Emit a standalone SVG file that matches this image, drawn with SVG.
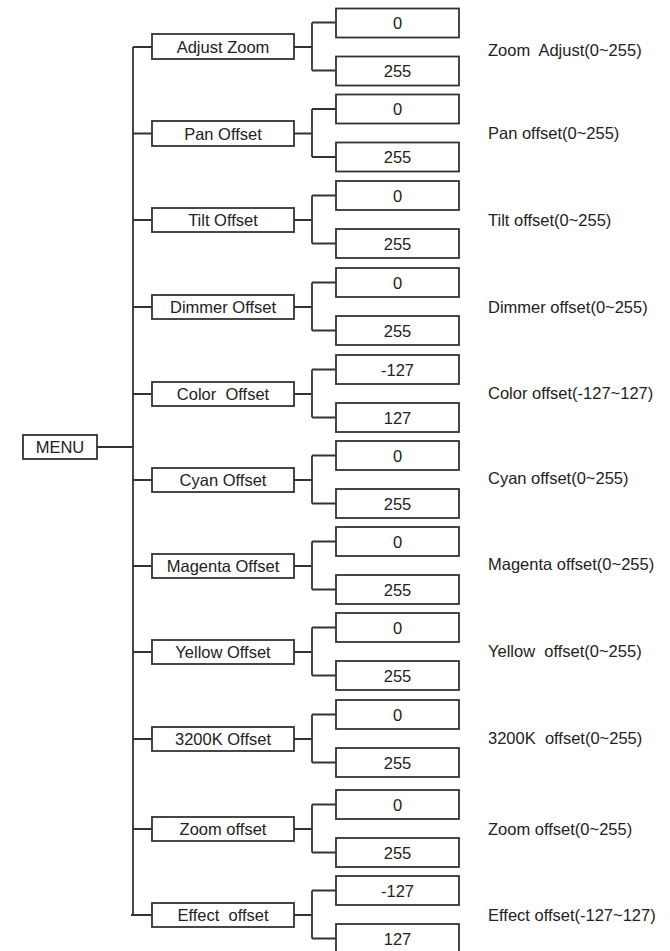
<svg xmlns="http://www.w3.org/2000/svg" width="670" height="951" viewBox="0 0 670 951" xml:space="preserve">
<style>
.b{fill:#fff;stroke:#333;stroke-width:1.8}
.c{fill:none;stroke:#333;stroke-width:1.8}
text{font-family:"Liberation Sans",Arial,sans-serif;font-size:16.5px;fill:#222;white-space:pre}
.m{text-anchor:middle}
</style>
<rect width="670" height="951" fill="#fff"/>
<g id="connectors" class="c">
<path d="M97 447H133M133 47V915"/>
<path d="M133 47H152M294 47H312M312 22.5V70.5M312 22.5H336M312 70.5H336"/>
<path d="M133 133.5H152M294 133.5H312M312 109V157M312 109H336M312 157H336"/>
<path d="M133 220H152M294 220H312M312 195.5V243.5M312 195.5H336M312 243.5H336"/>
<path d="M133 307H152M294 307H312M312 282.5V330.5M312 282.5H336M312 330.5H336"/>
<path d="M133 394H152M294 394H312M312 369.5V417.5M312 369.5H336M312 417.5H336"/>
<path d="M133 480H152M294 480H312M312 455.5V503.5M312 455.5H336M312 503.5H336"/>
<path d="M133 566H152M294 566H312M312 541.5V589.5M312 541.5H336M312 589.5H336"/>
<path d="M133 652H152M294 652H312M312 627.5V675.5M312 627.5H336M312 675.5H336"/>
<path d="M133 739H152M294 739H312M312 714.5V762.5M312 714.5H336M312 762.5H336"/>
<path d="M133 829H152M294 829H312M312 804.5V852.5M312 804.5H336M312 852.5H336"/>
<path d="M131 915H152M294 915H312M312 890.5V938.5M312 890.5H336M312 938.5H336"/>
</g>
<g id="menu"><rect class="b" x="23" y="435" width="74" height="24"/><text class="m" x="60" y="453">MENU</text></g>
<g id="g0">
<rect class="b" x="152" y="34" width="142" height="25"/><text class="m" x="223" y="52.5">Adjust Zoom</text>
<rect class="b" x="336" y="8.5" width="123" height="29"/><text class="m" x="397.5" y="29">0</text>
<rect class="b" x="336" y="56.5" width="123" height="29"/><text class="m" x="397.5" y="77">255</text>
<text x="488" y="56">Zoom  Adjust(0~255)</text>
</g>
<g id="g1">
<rect class="b" x="152" y="121" width="142" height="25"/><text class="m" x="223" y="139.5">Pan Offset</text>
<rect class="b" x="336" y="94.5" width="123" height="29"/><text class="m" x="397.5" y="115">0</text>
<rect class="b" x="336" y="142.5" width="123" height="29"/><text class="m" x="397.5" y="163">255</text>
<text x="488" y="139">Pan offset(0~255)</text>
</g>
<g id="g2">
<rect class="b" x="152" y="208" width="142" height="24"/><text class="m" x="223" y="226">Tilt Offset</text>
<rect class="b" x="336" y="181" width="123" height="29"/><text class="m" x="397.5" y="201.5">0</text>
<rect class="b" x="336" y="229" width="123" height="29"/><text class="m" x="397.5" y="249.5">255</text>
<text x="488" y="225.5">Tilt offset(0~255)</text>
</g>
<g id="g3">
<rect class="b" x="152" y="295" width="142" height="24"/><text class="m" x="223" y="313">Dimmer Offset</text>
<rect class="b" x="336" y="268" width="123" height="29"/><text class="m" x="397.5" y="288.5">0</text>
<rect class="b" x="336" y="316" width="123" height="29"/><text class="m" x="397.5" y="336.5">255</text>
<text x="488" y="312.5">Dimmer offset(0~255)</text>
</g>
<g id="g4">
<rect class="b" x="152" y="382" width="142" height="24"/><text class="m" x="223" y="400">Color  Offset</text>
<rect class="b" x="336" y="355" width="123" height="29"/><text class="m" x="397.5" y="375.5">-127</text>
<rect class="b" x="336" y="403" width="123" height="29"/><text class="m" x="397.5" y="423.5">127</text>
<text x="488" y="398.5">Color offset(-127~127)</text>
</g>
<g id="g5">
<rect class="b" x="152" y="468" width="142" height="24"/><text class="m" x="223" y="486">Cyan Offset</text>
<rect class="b" x="336" y="441" width="123" height="29"/><text class="m" x="397.5" y="461.5">0</text>
<rect class="b" x="336" y="489" width="123" height="29"/><text class="m" x="397.5" y="509.5">255</text>
<text x="488" y="484">Cyan offset(0~255)</text>
</g>
<g id="g6">
<rect class="b" x="152" y="554" width="142" height="24"/><text class="m" x="223" y="572">Magenta Offset</text>
<rect class="b" x="336" y="527" width="123" height="29"/><text class="m" x="397.5" y="547.5">0</text>
<rect class="b" x="336" y="575" width="123" height="29"/><text class="m" x="397.5" y="595.5">255</text>
<text x="488" y="569.5">Magenta offset(0~255)</text>
</g>
<g id="g7">
<rect class="b" x="152" y="640" width="142" height="24"/><text class="m" x="223" y="658">Yellow Offset</text>
<rect class="b" x="336" y="613" width="123" height="29"/><text class="m" x="397.5" y="633.5">0</text>
<rect class="b" x="336" y="661" width="123" height="29"/><text class="m" x="397.5" y="681.5">255</text>
<text x="488" y="656.5">Yellow  offset(0~255)</text>
</g>
<g id="g8">
<rect class="b" x="152" y="727" width="142" height="24"/><text class="m" x="223" y="745">3200K Offset</text>
<rect class="b" x="336" y="700" width="123" height="29"/><text class="m" x="397.5" y="720.5">0</text>
<rect class="b" x="336" y="748" width="123" height="29"/><text class="m" x="397.5" y="768.5">255</text>
<text x="488" y="743.5">3200K  offset(0~255)</text>
</g>
<g id="g9">
<rect class="b" x="152" y="817" width="142" height="24"/><text class="m" x="223" y="835">Zoom offset</text>
<rect class="b" x="336" y="790" width="123" height="29"/><text class="m" x="397.5" y="810.5">0</text>
<rect class="b" x="336" y="838" width="123" height="29"/><text class="m" x="397.5" y="858.5">255</text>
<text x="488" y="834.5">Zoom offset(0~255)</text>
</g>
<g id="g10">
<rect class="b" x="152" y="903" width="142" height="24"/><text class="m" x="223" y="921">Effect  offset</text>
<rect class="b" x="336" y="876" width="123" height="29"/><text class="m" x="397.5" y="896.5">-127</text>
<rect class="b" x="336" y="924" width="123" height="29"/><text class="m" x="397.5" y="944.5">127</text>
<text x="488" y="920.5">Effect offset(-127~127)</text>
</g>
</svg>
